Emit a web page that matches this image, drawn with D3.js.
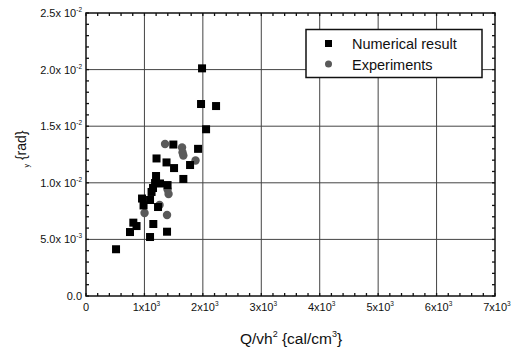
<!DOCTYPE html>
<html>
<head>
<meta charset="utf-8">
<script src="https://cdn.jsdelivr.net/npm/d3@7"></script>
<style>
  body { margin: 0; background: #fff; }
  text { font-family: "Liberation Sans", Arial, sans-serif; fill: #111; }
</style>
</head>
<body>
<svg id="chart" width="516" height="351"></svg>
<script>
// values
const numX = [514, 753, 810, 865, 1096, 1152, 1387, 985, 1096, 959, 1122, 1147, 1182, 1199, 1267, 1396, 1233, 1666, 1207, 1378, 1507, 1781, 1495, 1918, 2055, 1969, 2226, 1986];
const numY = [0.00413, 0.00565, 0.00648, 0.00618, 0.00521, 0.00636, 0.00568, 0.0080, 0.00848, 0.00861, 0.00919, 0.00954, 0.00998, 0.0106, 0.00994, 0.0098, 0.00786, 0.01034, 0.01215, 0.0118, 0.0113, 0.01157, 0.01338, 0.0130, 0.01473, 0.01696, 0.01678, 0.02011];
const expX = [1002, 1259, 1387, 1396, 1413, 1353, 1644, 1652, 1666, 1875];
const expY = [0.00733, 0.00804, 0.00716, 0.00941, 0.00901, 0.01343, 0.01312, 0.01268, 0.01241, 0.01197];

const xTicks = [0, 1000, 2000, 3000, 4000, 5000, 6000, 7000];
const xTickLabels = [["0", ""], ["1x10", "3"], ["2x10", "3"], ["3x10", "3"], ["4x10", "3"], ["5x10", "3"], ["6x10", "3"], ["7x10", "3"]];
const yTicks = [0, 0.005, 0.01, 0.015, 0.02, 0.025];
const yTickLabels = [["0.0", ""], ["5.0x 10", "-3"], ["1.0x 10", "-2"], ["1.5x 10", "-2"], ["2.0x 10", "-2"], ["2.5x 10", "-2"]];
const seriesNames = ["Numerical result", "Experiments"];

const svg = d3.select("#chart");
const x = d3.scaleLinear().domain([0, 7000]).range([86, 495]);
const y = d3.scaleLinear().domain([0, 0.025]).range([296, 13]);
const [x0, x1] = x.range();
const [y0, y1] = y.range();

// grid
const grid = svg.append("g").attr("stroke", "#444").attr("stroke-width", 1);
grid.selectAll("line.gx").data(xTicks.slice(1, -1)).join("line")
  .attr("x1", d => x(d)).attr("x2", d => x(d)).attr("y1", y0).attr("y2", y1);
grid.selectAll("line.gy").data(yTicks.slice(1, -1)).join("line")
  .attr("y1", d => y(d)).attr("y2", d => y(d)).attr("x1", x0).attr("x2", x1);

// ticks on all four sides, pointing inward
const minorX = d3.range(0, 7001, 200);
const minorY = d3.range(0, 0.02501, 0.001);
const tk = svg.append("g").attr("stroke", "#111").attr("stroke-width", 1.3);
tk.selectAll("line.bx").data(minorX).join("line")
  .attr("x1", d => x(d)).attr("x2", d => x(d)).attr("y1", y0).attr("y2", y0 - 3);
tk.selectAll("line.tx").data(minorX).join("line")
  .attr("x1", d => x(d)).attr("x2", d => x(d)).attr("y1", y1).attr("y2", y1 + 3);
tk.selectAll("line.ly").data(minorY).join("line")
  .attr("y1", d => y(d)).attr("y2", d => y(d)).attr("x1", x0).attr("x2", x0 + 3);
tk.selectAll("line.ry").data(minorY).join("line")
  .attr("y1", d => y(d)).attr("y2", d => y(d)).attr("x1", x1).attr("x2", x1 - 3);

// frame
svg.append("rect").attr("x", x0).attr("y", y1).attr("width", x1 - x0).attr("height", y0 - y1)
  .attr("fill", "none").attr("stroke", "#111").attr("stroke-width", 1.5);

// tick labels
const xl = svg.append("g").attr("font-size", 11).attr("text-anchor", "middle");
xTicks.forEach((v, i) => {
  const t = xl.append("text").attr("x", x(v) + (i ? 2 : 0)).attr("y", 311);
  t.append("tspan").text(xTickLabels[i][0]);
  if (xTickLabels[i][1]) t.append("tspan").attr("dy", -5).attr("font-size", 6.5).text(xTickLabels[i][1]);
});
const yl = svg.append("g").attr("font-size", 11).attr("text-anchor", "end");
yTicks.forEach((v, i) => {
  const t = yl.append("text").attr("x", 82).attr("y", y(v) + 4);
  t.append("tspan").text(yTickLabels[i][0]);
  if (yTickLabels[i][1]) t.append("tspan").attr("dy", -5).attr("font-size", 6.5).text(yTickLabels[i][1]);
});

// axis titles
const xt = svg.append("text").attr("x", 291).attr("y", 344).attr("text-anchor", "middle").attr("font-size", 15.5);
xt.append("tspan").text("Q/vh");
xt.append("tspan").attr("dy", -7).attr("font-size", 9).text("2");
xt.append("tspan").attr("dy", 7).text(" {cal/cm");
xt.append("tspan").attr("dy", -7).attr("font-size", 9).text("3");
xt.append("tspan").attr("dy", 7).text("}");

const yt = svg.append("text").attr("transform", "translate(26,149) rotate(-90)")
  .attr("text-anchor", "middle").attr("font-size", 14);
yt.append("tspan").attr("font-size", 7).attr("dy", 3).text("y");
yt.append("tspan").attr("dy", -3).text(" {rad}");

// points
svg.append("g").selectAll("circle").data(expX).join("circle")
  .attr("cx", (d, i) => x(d)).attr("cy", (d, i) => y(expY[i])).attr("r", 4.2)
  .attr("fill", "#5a5a5a");
svg.append("g").selectAll("rect").data(numX).join("rect")
  .attr("x", (d, i) => x(d) - 4).attr("y", (d, i) => y(numY[i]) - 4)
  .attr("width", 8).attr("height", 8).attr("fill", "#000");

// legend
const lg = svg.append("g");
lg.append("rect").attr("x", 306).attr("y", 29.5).attr("width", 176).attr("height", 48)
  .attr("fill", "#fff").attr("stroke", "#111").attr("stroke-width", 1.5);
lg.append("rect").attr("x", 325).attr("y", 40).attr("width", 7).attr("height", 7).attr("fill", "#000");
lg.append("circle").attr("cx", 328.5).attr("cy", 64).attr("r", 3.5).attr("fill", "#5a5a5a");
lg.selectAll("text").data(seriesNames).join("text")
  .attr("x", 352).attr("y", (d, i) => 49 + i * 21).attr("font-size", 14.5).text(d => d);
</script>
</body>
</html>
